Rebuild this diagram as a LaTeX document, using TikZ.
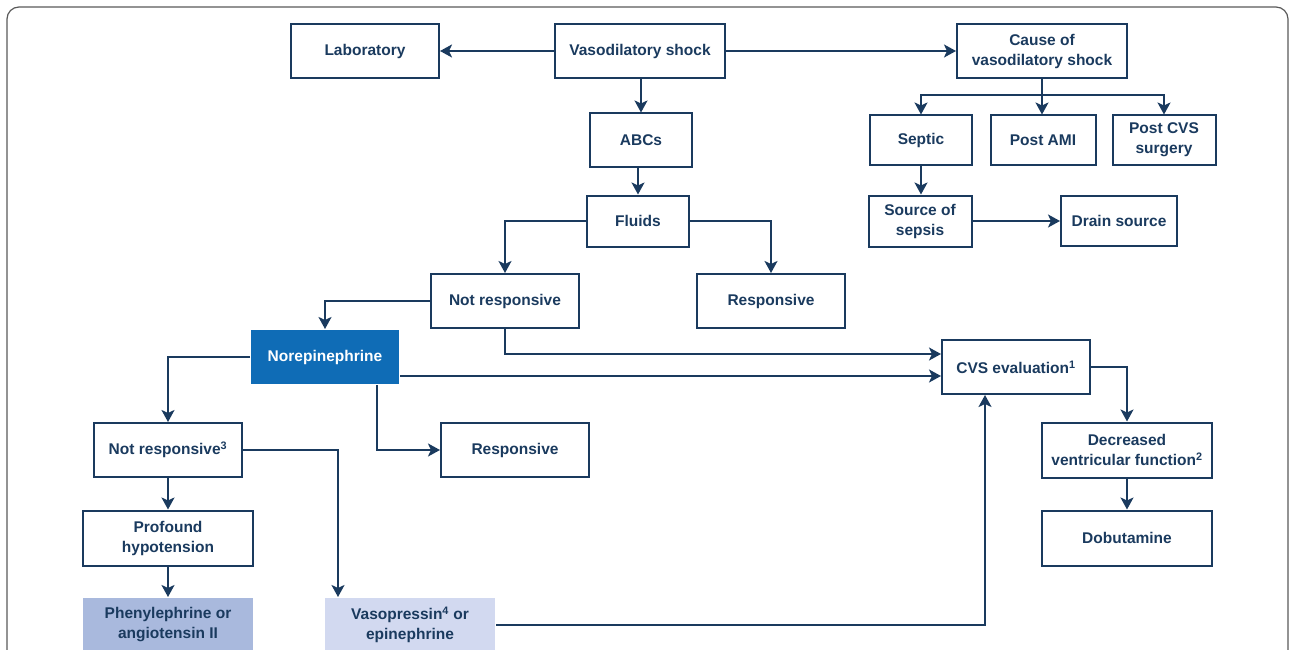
\documentclass[tikz,border=0pt]{standalone}
\usepackage{fontspec}
\setmainfont{Liberation Sans}
\usetikzlibrary{arrows.meta}
\definecolor{navy}{HTML}{1A3A5E}
\definecolor{noreblue}{HTML}{0F6CB6}
\definecolor{pheblue}{HTML}{A9B9DD}
\definecolor{vasoblue}{HTML}{D2D9F0}
\begin{document}
\begin{tikzpicture}[x=1pt,y=-1pt]
\tikzstyle{box}=[draw=navy, line width=2pt, text=navy, font=\fontsize{15.5}{20}\selectfont\bfseries, align=center, minimum height=54pt, inner sep=0pt]
\tikzstyle{shade}=[box, draw=none]
\tikzstyle{link}=[navy, line width=2pt, ->, >={Stealth[length=12pt,width=13pt,inset=3pt]}]
\useasboundingbox (0,0) rectangle (1290,650);
\draw[gray!70!black, line width=1.2pt, rounded corners=12pt] (7,7) rectangle (1288,720); %frame
% top row
\node[box, minimum width=148pt] (lab) at (365,51) {Laboratory};
\node[box, minimum width=170pt] (vaso) at (640,51) {Vasodilatory shock};
\node[box, minimum width=170pt] (cause) at (1042,51) {Cause of\\vasodilatory shock};
\node[box, minimum width=102pt, minimum height=53pt] (abcs) at (641,140) {ABCs};
\node[box, minimum width=102pt, minimum height=51pt] (fluids) at (638,221) {Fluids};
% causes
\node[box, minimum width=102pt, minimum height=49pt] (septic) at (921,140) {Septic};
\node[box, minimum width=105pt, minimum height=49pt] (postami) at (1043,140) {Post AMI};
\node[box, minimum width=103pt, minimum height=49pt] (postcvs) at (1164,140) {Post CVS\\surgery};
\node[box, minimum width=103pt, minimum height=51pt] (sepsis) at (920,221) {Source of\\sepsis};
\node[box, minimum width=116pt, minimum height=50pt] (drain) at (1119,221) {Drain source};
% fluid response
\node[box, minimum width=148pt] (notresp) at (505,301) {Not responsive};
\node[box, minimum width=148pt] (resp) at (771,301) {Responsive};
\node[shade, fill=noreblue, text=white, minimum width=148pt] (norepi) at (325,357) {Norepinephrine};
\node[box, minimum width=148pt] (cvs) at (1016,367) {CVS evaluation\textsuperscript{1}};
\node[box, minimum width=148pt] (notrespb) at (168,450) {Not responsive\textsuperscript{3}};
\node[box, minimum width=148pt] (respb) at (515,450) {Responsive};
\node[box, minimum width=170pt, minimum height=55pt] (decr) at (1127,450) {Decreased\\ventricular function\textsuperscript{2}};
\node[box, minimum width=170pt, minimum height=55pt] (hypo) at (168,538) {Profound\\hypotension};
\node[box, minimum width=170pt, minimum height=55pt] (dobu) at (1127,538) {Dobutamine};
\node[shade, fill=pheblue, minimum width=170pt] (phenyl) at (168,625) {Phenylephrine or\\angiotensin II};
\node[shade, fill=vasoblue, minimum width=170pt] (vasop) at (410,625) {Vasopressin\textsuperscript{4} or\\epinephrine};
% connectors
\draw[link] (vaso) -- (lab);
\draw[link] (vaso) -- (cause);
\draw[link] (vaso.south -| abcs) -- (abcs);
\draw[link] (abcs.south -| fluids) -- (fluids);
\coordinate (split) at (1042,95);
\draw[link] (cause.south) -- (postami.north -| cause.south);
\draw[link] (split) -| (septic);
\draw[link] (split) -| (postcvs);
\draw[link] (septic) -- (septic.south |- sepsis.north);
\draw[link] (sepsis) -- (drain);
\draw[link] (fluids.west) -| (notresp);
\draw[link] (fluids.east) -| (resp);
\draw[link] (notresp.west) -| (norepi);
\draw[link] (notresp.south) |- ([yshift=13pt]cvs.west);
\coordinate (nfoot) at ([yshift=-19pt]norepi.east);
\draw[link] (nfoot) -- (nfoot -| cvs.west);
\draw[link] (norepi.west) -| (notrespb);
\draw[link] ([xshift=52pt]norepi.south) |- (respb);
\draw[link] (notrespb) -- (hypo);
\draw[link] (notrespb.east) -| ([xshift=-72pt]vasop.north);
\draw[link] (hypo) -- (phenyl);
\draw[link] (vasop.east) -| ([xshift=-31pt]cvs.south);
\draw[link] (cvs.east) -| (decr);
\draw[link] (decr) -- (dobu);
\end{tikzpicture}
\end{document}
